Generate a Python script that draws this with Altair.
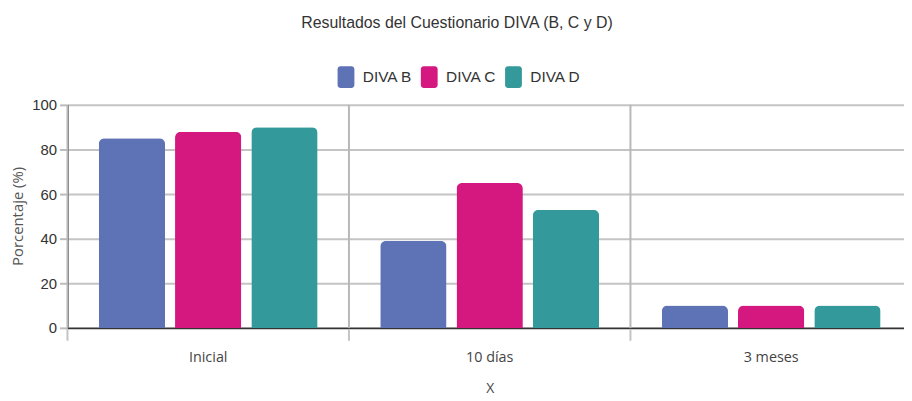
import altair as alt
import pandas as pd

# --- data ---
categories = ["Inicial", "10 días", "3 meses"]
series = ["DIVA B", "DIVA C", "DIVA D"]
diva_b = [85, 39, 10]
diva_c = [88, 65, 10]
diva_d = [90, 53, 10]
colors = ["#5E72B6", "#D41880", "#33999A"]
y_ticks = [0, 20, 40, 60, 80, 100]

rows = []
for name, vals in zip(series, [diva_b, diva_c, diva_d]):
    for cat, v in zip(categories, vals):
        rows.append({"Momento": cat, "Serie": name, "Porcentaje": v})
df = pd.DataFrame(rows)
cats_df = pd.DataFrame({"Momento": categories})

arialish = "Liberation Sans, Arial, sans-serif"
humanist = "Open Sans, Noto Sans, sans-serif"

# rounded rectangle legend symbol
rr = ("M -0.5,-1 L 0.5,-1 A 0.27,0.27 0 0 1 0.77,-0.73 L 0.77,0.73 "
      "A 0.27,0.27 0 0 1 0.5,1 L -0.5,1 A 0.27,0.27 0 0 1 -0.77,0.73 "
      "L -0.77,-0.73 A 0.27,0.27 0 0 1 -0.5,-1 Z")

# the last category band runs past the visible right edge, as in the reference
x_scale = alt.Scale(domain=categories, paddingInner=0, paddingOuter=0, range=[0, 852])
y_scale = alt.Scale(domain=[0, 100], nice=False)

x_axis = alt.Axis(
    title="X",
    labelAngle=0,
    grid=False,
    ticks=False,
    domain=False,
    labelFont=humanist,
    labelFontSize=14.5,
    labelColor="#444444",
    labelPadding=23,
    titleFont=humanist,
    titleFontSize=14,
    titleFontWeight="normal",
    titleColor="#444444",
    titlePadding=18,
)

# vertical separators at the start of each category band
vgrid = alt.Chart(cats_df).mark_rule(color="#b8b8b8", strokeWidth=2).encode(
    x=alt.X("Momento:N", sort=categories, scale=x_scale, bandPosition=0, axis=x_axis),
    y=alt.datum(0, scale=y_scale),
    y2=alt.datum(100),
)

# small ticks below the baseline at band starts
xticks = alt.Chart(cats_df).mark_rule(color="#c4c4c4", strokeWidth=2).encode(
    x=alt.X("Momento:N", sort=categories, scale=x_scale, bandPosition=0, axis=x_axis),
    y=alt.value(226),
    y2=alt.value(238),
)

bars = alt.Chart(df).mark_bar(
    cornerRadiusTopLeft=6, cornerRadiusTopRight=6
).encode(
    x=alt.X("Momento:N", sort=categories, scale=x_scale, axis=x_axis),
    xOffset=alt.XOffset(
        "Serie:N",
        sort=series,
        scale=alt.Scale(paddingInner=0.13, paddingOuter=0.41),
    ),
    y=alt.Y(
        "Porcentaje:Q",
        scale=y_scale,
        axis=alt.Axis(
            title="Porcentaje (%)",
            values=y_ticks,
            grid=True,
            gridColor={"condition": {"test": "datum.value === 0", "value": "#333333"},
                       "value": "#c4c4c4"},
            gridWidth=2,
            domainColor="#333333",
            domainWidth=1.5,
            tickColor="#bbbbbb",
            tickWidth=2,
            tickSize=8,
            labelFont=arialish,
            labelFontSize=15,
            labelColor="#333333",
            labelPadding=3,
            titleFont=humanist,
            titleFontSize=15,
            titleFontWeight="normal",
            titleColor="#555555",
            titleX=-50,
            titleY=112,
            titleAnchor="middle",
            titleBaseline="middle",
        ),
    ),
    color=alt.Color(
        "Serie:N",
        sort=series,
        scale=alt.Scale(domain=series, range=colors),
        legend=alt.Legend(
            title=None,
            orient="none",
            direction="horizontal",
            legendX=270,
            legendY=-39,
            padding=0,
            symbolType=rr,
            symbolSize=484,
            symbolStrokeWidth=0,
            symbolOpacity=1,
            labelFont=arialish,
            labelFontSize=15.5,
            labelColor="#333333",
            labelOffset=6,
            columnPadding=6,
        ),
    ),
)

chart = alt.layer(vgrid, bars, xticks).properties(
    width=844,
    height=225,
    title=alt.TitleParams(
        "Resultados del Cuestionario DIVA (B, C y D)",
        font=arialish,
        fontSize=16,
        fontWeight="normal",
        color="#333333",
        anchor="middle",
        frame="group",
        dx=-29,
        dy=-32,
    ),
    padding={"left": 60, "top": 96, "right": 0, "bottom": 67},
    autosize=alt.AutoSizeParams(type="none"),
).configure_view(
    stroke=None
)

chart.save("out.html", embed_options={"renderer": "svg", "actions": False})
